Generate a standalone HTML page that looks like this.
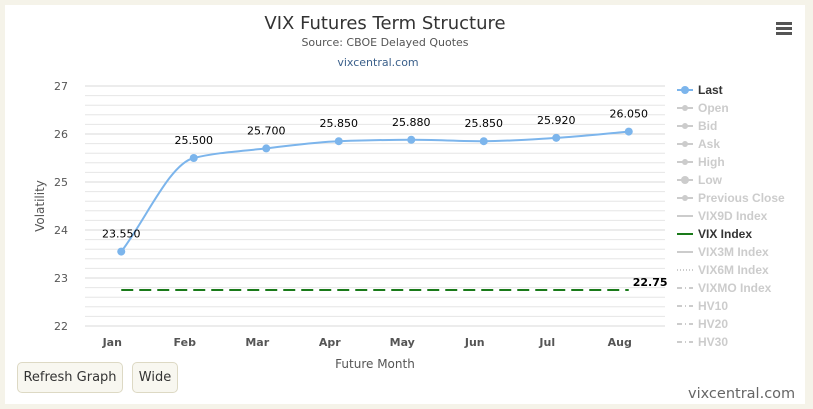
<!DOCTYPE html>
<html><head><meta charset="utf-8">
<style>
body{margin:0;width:813px;height:409px;background:#f5f3e9;font-family:"Liberation Sans",sans-serif;overflow:hidden;position:relative}
#panel{position:absolute;left:5px;top:5px;width:800px;height:399px;background:#fff}
.btn{position:absolute;top:362px;height:29px;border:1px solid #ddd9c4;border-radius:5px;background:#f8f7f0;font-size:13px;color:#333;line-height:29px;text-align:center;font-family:"DejaVu Sans",sans-serif}
</style></head><body>
<div id="panel"></div>
<svg id="chart" width="813" height="409" style="position:absolute;left:0;top:0"></svg>
<div class="btn" style="left:17px;width:104px">Refresh Graph</div>
<div class="btn" style="left:132px;width:44px">Wide</div>
<div style="position:absolute;left:688px;top:386px;font-size:14.5px;color:#666;font-family:'DejaVu Sans',sans-serif">vixcentral.com</div>
<script>
const categories=["Jan","Feb","Mar","Apr","May","Jun","Jul","Aug"];
const lastValues=[23.55,25.5,25.7,25.85,25.88,25.85,25.92,26.05];
const vixIndex=22.75;
const yTicks=[22,23,24,25,26,27];
const legendItems=["Last","Open","Bid","Ask","High","Low","Previous Close","VIX9D Index","VIX Index","VIX3M Index","VIX6M Index","VIXMO Index","HV10","HV20","HV30"];
const NS="http://www.w3.org/2000/svg";
const svg=document.getElementById('chart');
const L=85,R=665,T=86,B=326,ymin=22,ymax=27;
const x=i=>L+(i+0.5)*(R-L)/categories.length;
const y=v=>B-(v-ymin)/(ymax-ymin)*(B-T);
function mk(t,a,txt){const e=document.createElementNS(NS,t);for(const k in a)e.setAttribute(k,a[k]);if(txt!=null)e.textContent=txt;svg.appendChild(e);return e;}
let e;
e=mk('text',{x:385,y:29,'text-anchor':'middle','font-size':18,fill:'#333','font-family':'DejaVu Sans, sans-serif'},'VIX Futures Term Structure');

e=mk('text',{x:385,y:46,'text-anchor':'middle','font-size':11,fill:'#555','font-family':'DejaVu Sans, sans-serif'},'Source: CBOE Delayed Quotes');

e=mk('text',{x:378,y:66,'text-anchor':'middle','font-size':11,fill:'#3a5f8a','font-family':'DejaVu Sans, sans-serif'},'vixcentral.com');

e=mk('g',{});
for(let k=0;k<3;k++)mk('rect',{x:776,y:22+k*5,width:16,height:3,fill:'#555'});
for(let v=ymin;v<=ymax+1e-9;v+=0.2){
 e=mk('line',{x1:L,x2:R,y1:y(v),y2:y(v),stroke:Math.abs(v-Math.round(v))<1e-6?'#d8d8d8':'#e6e6e6','stroke-width':1});
 
}
yTicks.forEach(v=>{e=mk('text',{x:68,y:y(v)+4,'text-anchor':'end','font-size':11,fill:'#555','font-family':'DejaVu Sans, sans-serif'},v);
 });
categories.forEach((c,i)=>{e=mk('text',{x:x(i)-9,y:346,'text-anchor':'middle','font-size':11,'font-weight':'bold',fill:'#555','font-family':'DejaVu Sans, sans-serif'},c);
 });
e=mk('text',{x:375,y:368,'text-anchor':'middle','font-size':12,fill:'#555','font-family':'DejaVu Sans, sans-serif'},'Future Month');

e=mk('text',{x:44,y:206,'text-anchor':'middle','font-size':12,fill:'#555','font-family':'DejaVu Sans, sans-serif',transform:'rotate(-90 44 206)'},'Volatility');

e=mk('line',{x1:x(0),x2:x(categories.length-1),y1:y(vixIndex),y2:y(vixIndex),stroke:'#1a7a1a','stroke-width':2,'stroke-dasharray':'12,6'});

e=mk('text',{x:x(categories.length-1)+4,y:y(vixIndex)-4,'font-size':11,'font-weight':'bold',fill:'#000','font-family':'DejaVu Sans, sans-serif'},vixIndex.toFixed(2));

const px=lastValues.map((v,i)=>[x(i),y(v)]);
const n=px.length,d=[],m=[];
for(let i=0;i<n-1;i++)d.push((px[i+1][1]-px[i][1])/(px[i+1][0]-px[i][0]));
for(let i=0;i<n;i++){if(i==0)m.push(d[0]);else if(i==n-1)m.push(d[n-2]);else m.push(d[i-1]*d[i]<=0?0:2/(1/d[i-1]+1/d[i]));}
let p=`M${px[0][0]},${px[0][1]}`;
for(let i=0;i<n-1;i++){const h=(px[i+1][0]-px[i][0])/3;p+=` C${px[i][0]+h},${px[i][1]+m[i]*h} ${px[i+1][0]-h},${px[i+1][1]-m[i+1]*h} ${px[i+1][0]},${px[i+1][1]}`;}
e=mk('path',{d:p,fill:'none',stroke:'#7cb5ec','stroke-width':2});

px.forEach((q,i)=>{e=mk('circle',{cx:q[0],cy:q[1],r:4,fill:'#7cb5ec'});
 
 e=mk('text',{x:q[0],y:q[1]-14,'text-anchor':'middle','font-size':11,fill:'#000','font-family':'DejaVu Sans, sans-serif'},lastValues[i].toFixed(3));
 });
legendItems.forEach((t,i)=>{const ly=90+i*18;const active=t=='Last'||t=='VIX Index';
 const g=mk('g',{});
 const col=t=='Last'?'#7cb5ec':t=='VIX Index'?'#1a7a1a':'#ccc';
 let dash=i==10?'1,2':i>=11?'5,3,1,3':'none';
 const ln=document.createElementNS(NS,'line');[['x1',677],['x2',693],['y1',ly],['y2',ly],['stroke',col],['stroke-width',2],['stroke-dasharray',dash]].forEach(a=>ln.setAttribute(a[0],a[1]));g.appendChild(ln);
 if(i<7){const c=document.createElementNS(NS,'circle');c.setAttribute('cx',685);c.setAttribute('cy',ly);c.setAttribute('r',i==0||i==5?4:3);c.setAttribute('fill',col);g.appendChild(c);}
 const tx=document.createElementNS(NS,'text');tx.setAttribute('x',698);tx.setAttribute('y',ly+4);tx.setAttribute('font-size',12);tx.setAttribute('font-weight','bold');tx.setAttribute('fill',active?'#333':'#ccc');tx.setAttribute('font-family','Liberation Sans, sans-serif');tx.textContent=t;g.appendChild(tx);
 svg.appendChild(g);});
</script>
</body></html>
